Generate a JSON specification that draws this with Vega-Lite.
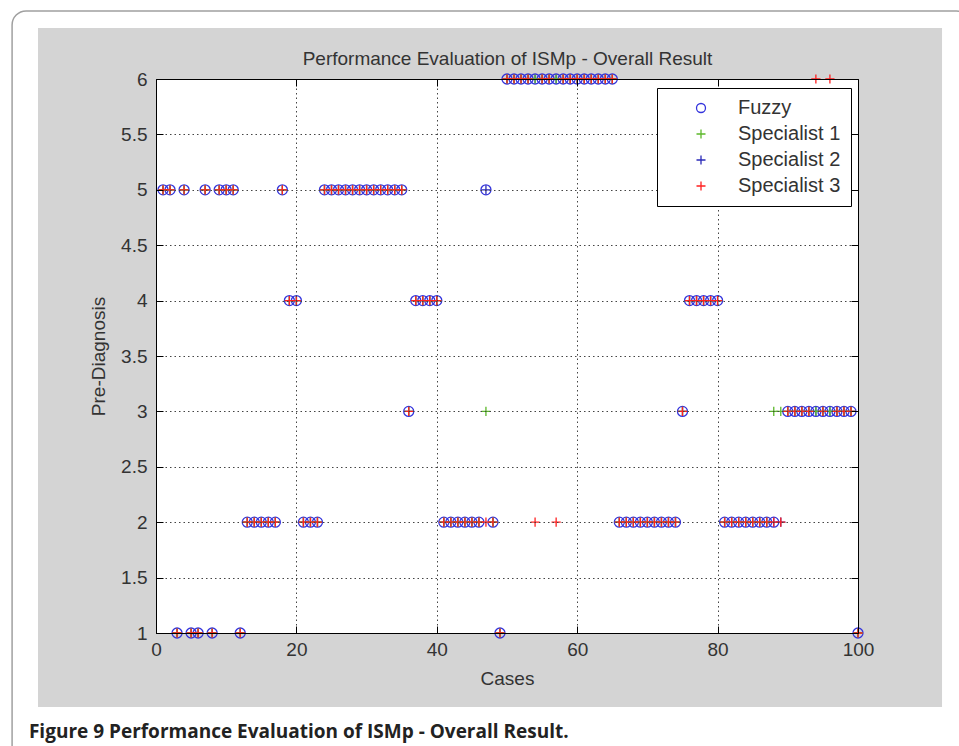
{
  "$schema": "https://vega.github.io/schema/vega-lite/v6.json",
  "width": 702,
  "height": 554,
  "autosize": {"type": "none"},
  "padding": {"left": 156, "top": 79, "right": 101, "bottom": 113},
  "background": "white",
  "config": {
    "view": {"stroke": null},
    "font": "Liberation Sans",
    "axis": {
      "domainColor": "#000000", "domainWidth": 1,
      "tickColor": "#000000", "tickSize": -7, "tickWidth": 1,
      "gridColor": "#444444", "gridDash": [1.5, 3], "gridWidth": 1, "gridOpacity": 1,
      "labelFont": "Liberation Sans", "labelFontSize": 19, "labelColor": "#333333",
      "titleFont": "Liberation Sans", "titleFontSize": 19, "titleFontWeight": "normal", "titleColor": "#333333",
      "labelFlush": false, "labelOverlap": false
    },
    "legend": {
      "orient": "none", "legendX": 501, "legendY": 9,
      "fillColor": "white", "strokeColor": "#000000", "padding": 10,
      "labelFont": "Liberation Sans", "labelFontSize": 20, "labelColor": "#333333",
      "symbolSize": 81, "symbolStrokeWidth": 1.3, "symbolOffset": 24, "labelOffset": 27,
      "rowPadding": 6, "zindex": 2
    }
  },
  "resolve": {"axis": {"x": "independent", "y": "independent"}},
  "layer": [
    {
      "data": {"values": [{}]},
      "layer": [
        {
          "mark": {"type": "rect", "fillOpacity": 0, "stroke": "#a0a0a0", "strokeWidth": 1.5, "cornerRadius": 14},
          "encoding": {
            "x": {"datum": -20.5, "type": "quantitative", "scale": {"domain": [0, 100], "nice": false, "zero": false},
                  "axis": {"orient": "top", "values": [0, 20, 40, 60, 80, 100], "labels": false, "grid": false, "title": "Performance Evaluation of ISMp - Overall Result", "titlePadding": 10, "zindex": 1}},
            "x2": {"datum": 116},
            "y": {"datum": 6.614, "type": "quantitative", "scale": {"domain": [1, 6], "nice": false, "zero": false},
                  "axis": {"orient": "right", "values": [1, 1.5, 2, 2.5, 3, 3.5, 4, 4.5, 5, 5.5, 6], "labels": false, "grid": false, "title": null, "zindex": 1}},
            "y2": {"datum": -0.2}
          }
        },
        {
          "mark": {"type": "rect", "fill": "#d4d4d4"},
          "encoding": {
            "x": {"datum": -16.81, "type": "quantitative"},
            "x2": {"datum": 111.97},
            "y": {"datum": 6.46, "type": "quantitative"},
            "y2": {"datum": 0.332}
          }
        },
        {
          "mark": {"type": "rect", "fill": "#ffffff"},
          "encoding": {
            "x": {"datum": 0, "type": "quantitative"},
            "x2": {"datum": 100},
            "y": {"datum": 1, "type": "quantitative"},
            "y2": {"datum": 6}
          }
        },
        {
          "mark": {"type": "text", "align": "left", "baseline": "alphabetic", "font": "Open Sans", "fontSize": 19, "fontWeight": "bold", "color": "#222222", "text": "Figure 9 Performance Evaluation of ISMp - Overall Result."},
          "encoding": {
            "x": {"datum": -18.1, "type": "quantitative"},
            "y": {"datum": 0.05, "type": "quantitative"}
          }
        }
      ]
    },
    {
      "data": {"values": [
        {"c":1,"f":5,"s1":5,"s2":5,"s3":5},{"c":2,"f":5,"s1":5,"s2":5,"s3":5},{"c":3,"f":1,"s1":1,"s2":1,"s3":1},{"c":4,"f":5,"s1":5,"s2":5,"s3":5},{"c":5,"f":1,"s1":1,"s2":1,"s3":1},
        {"c":6,"f":1,"s1":1,"s2":1,"s3":1},{"c":7,"f":5,"s1":5,"s2":5,"s3":5},{"c":8,"f":1,"s1":1,"s2":1,"s3":1},{"c":9,"f":5,"s1":5,"s2":5,"s3":5},{"c":10,"f":5,"s1":5,"s2":5,"s3":5},
        {"c":11,"f":5,"s1":5,"s2":5,"s3":5},{"c":12,"f":1,"s1":1,"s2":1,"s3":1},{"c":13,"f":2,"s1":2,"s2":2,"s3":2},{"c":14,"f":2,"s1":2,"s2":2,"s3":2},{"c":15,"f":2,"s1":2,"s2":2,"s3":2},
        {"c":16,"f":2,"s1":2,"s2":2,"s3":2},{"c":17,"f":2,"s1":2,"s2":2,"s3":2},{"c":18,"f":5,"s1":5,"s2":5,"s3":5},{"c":19,"f":4,"s1":4,"s2":4,"s3":4},{"c":20,"f":4,"s1":4,"s2":4,"s3":4},
        {"c":21,"f":2,"s1":2,"s2":2,"s3":2},{"c":22,"f":2,"s1":2,"s2":2,"s3":2},{"c":23,"f":2,"s1":2,"s2":2,"s3":2},{"c":24,"f":5,"s1":5,"s2":5,"s3":5},{"c":25,"f":5,"s1":5,"s2":5,"s3":5},
        {"c":26,"f":5,"s1":5,"s2":5,"s3":5},{"c":27,"f":5,"s1":5,"s2":5,"s3":5},{"c":28,"f":5,"s1":5,"s2":5,"s3":5},{"c":29,"f":5,"s1":5,"s2":5,"s3":5},{"c":30,"f":5,"s1":5,"s2":5,"s3":5},
        {"c":31,"f":5,"s1":5,"s2":5,"s3":5},{"c":32,"f":5,"s1":5,"s2":5,"s3":5},{"c":33,"f":5,"s1":5,"s2":5,"s3":5},{"c":34,"f":5,"s1":5,"s2":5,"s3":5},{"c":35,"f":5,"s1":5,"s2":5,"s3":5},
        {"c":36,"f":3,"s1":3,"s2":3,"s3":3},{"c":37,"f":4,"s1":4,"s2":4,"s3":4},{"c":38,"f":4,"s1":4,"s2":4,"s3":4},{"c":39,"f":4,"s1":4,"s2":4,"s3":4},{"c":40,"f":4,"s1":4,"s2":4,"s3":4},
        {"c":41,"f":2,"s1":2,"s2":2,"s3":2},{"c":42,"f":2,"s1":2,"s2":2,"s3":2},{"c":43,"f":2,"s1":2,"s2":2,"s3":2},{"c":44,"f":2,"s1":2,"s2":2,"s3":2},{"c":45,"f":2,"s1":2,"s2":2,"s3":2},
        {"c":46,"f":2,"s1":2,"s2":2,"s3":2},{"c":47,"f":5,"s1":3,"s2":5,"s3":2},{"c":48,"f":2,"s1":2,"s2":2,"s3":2},{"c":49,"f":1,"s1":1,"s2":1,"s3":1},{"c":50,"f":6,"s1":6,"s2":6,"s3":6},
        {"c":51,"f":6,"s1":6,"s2":6,"s3":6},{"c":52,"f":6,"s1":6,"s2":6,"s3":6},{"c":53,"f":6,"s1":6,"s2":6,"s3":6},{"c":54,"f":6,"s1":6,"s2":6,"s3":2},{"c":55,"f":6,"s1":6,"s2":6,"s3":6},
        {"c":56,"f":6,"s1":6,"s2":6,"s3":6},{"c":57,"f":6,"s1":6,"s2":6,"s3":2},{"c":58,"f":6,"s1":6,"s2":6,"s3":6},{"c":59,"f":6,"s1":6,"s2":6,"s3":6},{"c":60,"f":6,"s1":6,"s2":6,"s3":6},
        {"c":61,"f":6,"s1":6,"s2":6,"s3":6},{"c":62,"f":6,"s1":6,"s2":6,"s3":6},{"c":63,"f":6,"s1":6,"s2":6,"s3":6},{"c":64,"f":6,"s1":6,"s2":6,"s3":6},{"c":65,"f":6,"s1":6,"s2":6,"s3":6},
        {"c":66,"f":2,"s1":2,"s2":2,"s3":2},{"c":67,"f":2,"s1":2,"s2":2,"s3":2},{"c":68,"f":2,"s1":2,"s2":2,"s3":2},{"c":69,"f":2,"s1":2,"s2":2,"s3":2},{"c":70,"f":2,"s1":2,"s2":2,"s3":2},
        {"c":71,"f":2,"s1":2,"s2":2,"s3":2},{"c":72,"f":2,"s1":2,"s2":2,"s3":2},{"c":73,"f":2,"s1":2,"s2":2,"s3":2},{"c":74,"f":2,"s1":2,"s2":2,"s3":2},{"c":75,"f":3,"s1":3,"s2":3,"s3":3},
        {"c":76,"f":4,"s1":4,"s2":4,"s3":4},{"c":77,"f":4,"s1":4,"s2":4,"s3":4},{"c":78,"f":4,"s1":4,"s2":4,"s3":4},{"c":79,"f":4,"s1":4,"s2":4,"s3":4},{"c":80,"f":4,"s1":4,"s2":4,"s3":4},
        {"c":81,"f":2,"s1":2,"s2":2,"s3":2},{"c":82,"f":2,"s1":2,"s2":2,"s3":2},{"c":83,"f":2,"s1":2,"s2":2,"s3":2},{"c":84,"f":2,"s1":2,"s2":2,"s3":2},{"c":85,"f":2,"s1":2,"s2":2,"s3":2},
        {"c":86,"f":2,"s1":2,"s2":2,"s3":2},{"c":87,"f":2,"s1":2,"s2":2,"s3":2},{"c":88,"f":2,"s1":3,"s2":2,"s3":2},{"c":89,"f":null,"s1":3,"s2":2,"s3":2},{"c":90,"f":3,"s1":3,"s2":3,"s3":3},
        {"c":91,"f":3,"s1":3,"s2":3,"s3":3},{"c":92,"f":3,"s1":3,"s2":3,"s3":3},{"c":93,"f":3,"s1":3,"s2":3,"s3":3},{"c":94,"f":3,"s1":3,"s2":3,"s3":6},{"c":95,"f":3,"s1":3,"s2":3,"s3":3},
        {"c":96,"f":3,"s1":3,"s2":3,"s3":6},{"c":97,"f":3,"s1":3,"s2":3,"s3":3},{"c":98,"f":3,"s1":3,"s2":3,"s3":3},{"c":99,"f":3,"s1":3,"s2":3,"s3":3},{"c":100,"f":1,"s1":1,"s2":1,"s3":1}
      ]},
      "layer": [
        {
          "mark": {"type": "point", "filled": false, "opacity": 1, "strokeWidth": 1.3, "size": 100},
          "encoding": {
            "x": {"field": "c", "type": "quantitative", "title": "Cases", "scale": {"domain": [0, 100], "nice": false, "zero": false},
                  "axis": {"orient": "bottom", "values": [0, 20, 40, 60, 80, 100], "format": "d", "grid": true, "labelPadding": 14, "titlePadding": 10, "zindex": 1}},
            "y": {"field": "f", "type": "quantitative", "title": "Pre-Diagnosis", "scale": {"domain": [1, 6], "nice": false, "zero": false},
                  "axis": {"orient": "left", "values": [1, 1.5, 2, 2.5, 3, 3.5, 4, 4.5, 5, 5.5, 6], "format": "~g", "grid": true, "labelPadding": 16, "titlePadding": 12, "zindex": 1}},
            "color": {"datum": "Fuzzy", "scale": {"domain": ["Fuzzy", "Specialist 1", "Specialist 2", "Specialist 3"], "range": ["#3434dc", "#5cb82a", "#2a2ab8", "#ff2020"]}, "legend": {"title": null}},
            "shape": {"datum": "Fuzzy", "scale": {"domain": ["Fuzzy", "Specialist 1", "Specialist 2", "Specialist 3"], "range": ["circle", "M-1,0L1,0M0,-1L0,1", "M-1,0L1,0M0,-1L0,1", "M-1,0L1,0M0,-1L0,1"]}, "legend": {"title": null}}
          }
        },
        {
          "mark": {"type": "point", "filled": false, "opacity": 1, "strokeWidth": 1.3, "size": 85},
          "encoding": {
            "x": {"field": "c", "type": "quantitative", "title": "Cases"},
            "y": {"field": "s2", "type": "quantitative", "title": "Pre-Diagnosis"},
            "color": {"datum": "Specialist 2"},
            "shape": {"datum": "Specialist 2"}
          }
        },
        {
          "mark": {"type": "point", "filled": false, "opacity": 1, "strokeWidth": 1.3, "size": 85},
          "encoding": {
            "x": {"field": "c", "type": "quantitative", "title": "Cases"},
            "y": {"field": "s1", "type": "quantitative", "title": "Pre-Diagnosis"},
            "color": {"datum": "Specialist 1"},
            "shape": {"datum": "Specialist 1"}
          }
        },
        {
          "mark": {"type": "point", "filled": false, "opacity": 1, "strokeWidth": 1.3, "size": 85},
          "encoding": {
            "x": {"field": "c", "type": "quantitative", "title": "Cases"},
            "y": {"field": "s3", "type": "quantitative", "title": "Pre-Diagnosis"},
            "color": {"datum": "Specialist 3"},
            "shape": {"datum": "Specialist 3"}
          }
        }
      ]
    }
  ]
}
